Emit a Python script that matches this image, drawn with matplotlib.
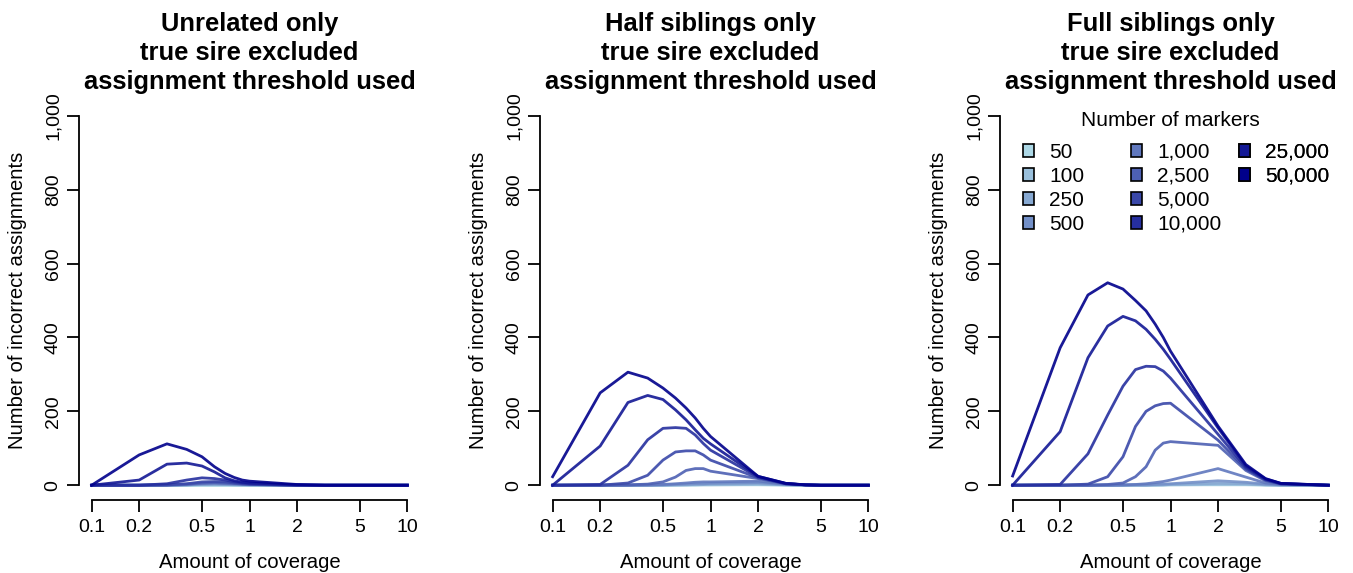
import matplotlib
matplotlib.use("Agg")
import matplotlib.pyplot as plt
from matplotlib.colors import LinearSegmentedColormap
from matplotlib.patches import Patch

plt.rcParams["font.family"] = ["Liberation Sans", "DejaVu Sans"]

# coverage values (x) shared by all panels
coverage = [0.1, 0.2, 0.3, 0.4, 0.5, 0.6, 0.7, 0.8, 0.9, 1, 2, 3, 4, 5, 10]

marker_labels = ["50", "100", "250", "500", "1,000", "2,500",
                 "5,000", "10,000", "25,000", "50,000"]

# number of incorrect assignments, one list per marker count (50 ... 50,000)
unrelated = [
    [0, 0, 0, 0, 0, 0, 0, 0, 0, 0, 0, 0, 0, 0, 0],
    [0, 0, 0, 0, 1, 1, 1, 1, 0, 0, 0, 0, 0, 0, 0],
    [0, 0, 0, 1, 2, 2, 2, 1, 1, 1, 0, 0, 0, 0, 0],
    [0, 0, 0, 1, 3, 4, 3, 2, 2, 1, 0, 0, 0, 0, 0],
    [0, 0, 0, 2, 5, 6, 5, 4, 3, 2, 0, 0, 0, 0, 0],
    [0, 0, 1, 3, 6, 7, 6, 5, 3, 2, 0, 0, 0, 0, 0],
    [0, 0, 1, 4, 9, 10, 9, 6, 4, 3, 0, 0, 0, 0, 0],
    [0, 0, 4, 14, 20, 18, 14, 9, 6, 4, 0, 0, 0, 0, 0],
    [0, 14, 57, 60, 52, 36, 20, 12, 8, 6, 1, 0, 0, 0, 0],
    [0, 82, 112, 97, 77, 50, 32, 21, 14, 11, 2, 0, 0, 0, 0],
]

half_sibs = [
    [0, 0, 0, 0, 0, 0, 0, 0, 1, 1, 1, 0, 0, 0, 0],
    [0, 0, 0, 0, 0, 0, 1, 1, 1, 1, 2, 1, 0, 0, 0],
    [0, 0, 0, 0, 0, 1, 1, 2, 2, 3, 4, 1, 0, 0, 0],
    [0, 0, 0, 0, 1, 2, 3, 4, 4, 5, 7, 2, 0, 0, 0],
    [0, 0, 0, 1, 2, 4, 6, 8, 9, 9, 11, 3, 1, 0, 0],
    [0, 0, 1, 3, 9, 22, 40, 45, 45, 38, 18, 4, 1, 0, 0],
    [0, 0, 6, 27, 68, 90, 93, 93, 82, 68, 20, 4, 1, 0, 0],
    [0, 2, 54, 123, 154, 156, 154, 136, 113, 95, 22, 4, 1, 0, 0],
    [0, 106, 224, 243, 232, 204, 177, 150, 127, 112, 24, 5, 1, 0, 0],
    [23, 250, 306, 290, 263, 236, 209, 182, 154, 132, 24, 5, 1, 0, 0],
]

full_sibs = [
    [0, 0, 0, 0, 0, 0, 0, 0, 0, 1, 1, 1, 0, 0, 0],
    [0, 0, 0, 0, 0, 0, 0, 0, 1, 1, 2, 2, 1, 0, 0],
    [0, 0, 0, 0, 0, 0, 0, 1, 1, 2, 5, 4, 1, 0, 0],
    [0, 0, 0, 0, 0, 1, 1, 2, 3, 4, 12, 8, 3, 1, 0],
    [0, 0, 0, 0, 1, 2, 4, 7, 10, 14, 45, 22, 6, 2, 0],
    [0, 0, 0, 2, 6, 23, 50, 95, 114, 118, 108, 40, 12, 3, 0],
    [0, 0, 3, 23, 77, 159, 200, 215, 221, 222, 122, 44, 14, 4, 0],
    [0, 2, 85, 190, 268, 313, 322, 321, 309, 290, 138, 48, 15, 4, 0],
    [0, 145, 345, 431, 457, 445, 422, 395, 368, 341, 155, 52, 17, 5, 0],
    [25, 372, 515, 548, 531, 500, 472, 436, 400, 363, 160, 56, 18, 5, 0],
]

panels = [unrelated, half_sibs, full_sibs]
titles = ["Unrelated only\ntrue sire excluded\nassignment threshold used",
          "Half siblings only\ntrue sire excluded\nassignment threshold used",
          "Full siblings only\ntrue sire excluded\nassignment threshold used"]

xticks = [0.1, 0.2, 0.5, 1, 2, 5, 10]
xticklabels = ["0.1", "0.2", "0.5", "1", "2", "5", "10"]
yticks = [0, 200, 400, 600, 800, 1000]
yticklabels = ["0", "200", "400", "600", "800", "1,000"]

cmap = LinearSegmentedColormap.from_list("blues", ["#ADD8E6", "#00008B"])
colors = [cmap(i / 9) for i in range(10)]

W, H = 1353, 573
fig = plt.figure(figsize=(W / 100, H / 100), dpi=100)

lefts = [79, 540, 1000]
for p, left in enumerate(lefts):
    ax = fig.add_axes([left / W, 73 / H, 341 / W, 399 / H])
    for vals, c in zip(panels[p], colors):
        ax.plot(coverage, vals, color=c, lw=2.0, alpha=0.9, solid_joinstyle="round")
    ax.set_xscale("log")
    ax.set_xlim(0.1 * 10 ** -0.08, 10 * 10 ** 0.08)
    ax.set_ylim(-40, 1040)
    ax.minorticks_off()
    ax.set_xticks(xticks)
    ax.set_xticklabels(xticklabels)
    ax.set_yticks(yticks)
    ax.set_yticklabels(yticklabels, rotation=90, va="center")
    ax.spines["top"].set_visible(False)
    ax.spines["right"].set_visible(False)
    ax.spines["bottom"].set_bounds(0.1, 10)
    ax.spines["left"].set_bounds(0, 1000)
    for s in ["bottom", "left"]:
        ax.spines[s].set_linewidth(1.3)
    ax.tick_params(direction="out", length=8.5, width=1.3, labelsize=14)
    ax.tick_params(axis="x", pad=5)
    ax.tick_params(axis="y", pad=4)
    ax.text(0.5, -62 / 399, "Amount of coverage", transform=ax.transAxes,
            ha="center", va="center", fontsize=14.6)
    ax.text(-61 / 341, 0.5, "Number of incorrect assignments", transform=ax.transAxes,
            ha="center", va="center", rotation=90, fontsize=14.6)
    fig.text((left + 170.5) / W, 1 - 53 / H, titles[p], ha="center", va="center",
             fontsize=18.4, fontweight="bold", linespacing=1.26)

    if p == 2:
        handles = [Patch(facecolor=c, edgecolor="black", linewidth=1.2) for c in colors]
        ax.text(170 / 341, 1 - 20 / 399, "Number of markers", transform=ax.transAxes,
                ha="center", va="center", fontsize=15)
        col_x = [23 / 341, 131 / 341, 239 / 341]
        for j in range(3):
            leg = ax.legend(handles[j * 4:(j + 1) * 4], marker_labels[j * 4:(j + 1) * 4],
                            loc="upper left", bbox_to_anchor=(col_x[j], 0.895),
                            frameon=False, fontsize=15, borderpad=0, borderaxespad=0,
                            handlelength=0.55, handleheight=0.55, handletextpad=0.7,
                            labelspacing=0.24)
            ax.add_artist(leg)

fig.savefig("out.png", dpi=100)
